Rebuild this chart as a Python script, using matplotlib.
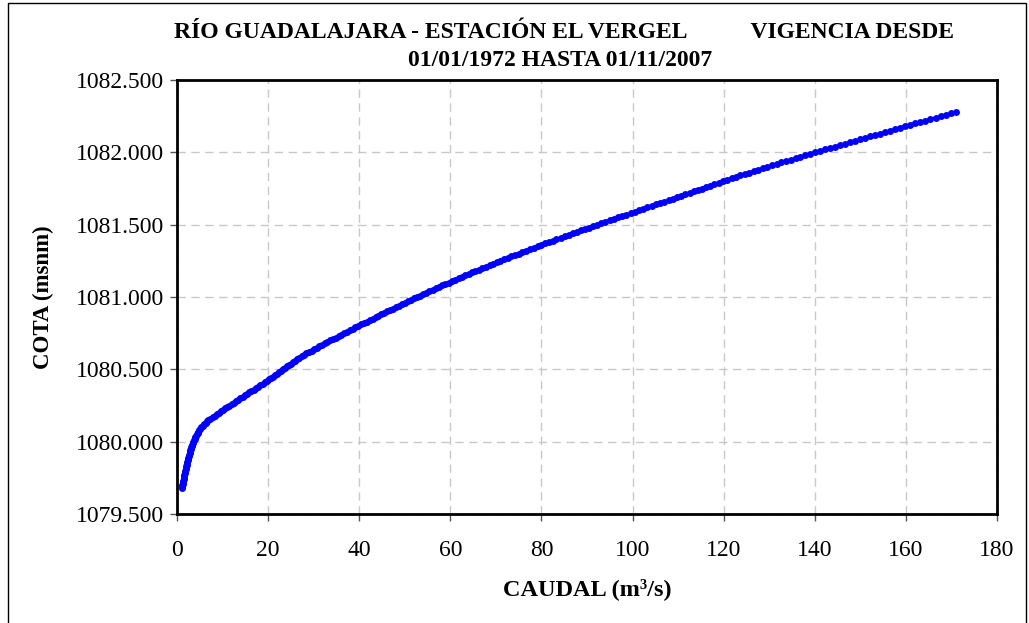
import matplotlib
matplotlib.use("Agg")
import matplotlib.pyplot as plt
from matplotlib.patches import Rectangle

# Rating table: stage (m a.s.l.) and discharge (m3/s), one row per decimetre
COTA = [
    1079.68, 1079.69, 1079.70,
    1079.71, 1079.72, 1079.73, 1079.74, 1079.75, 1079.76, 1079.77, 1079.78, 1079.79, 1079.80,
    1079.81, 1079.82, 1079.83, 1079.84, 1079.85, 1079.86, 1079.87, 1079.88, 1079.89, 1079.90,
    1079.91, 1079.92, 1079.93, 1079.94, 1079.95, 1079.96, 1079.97, 1079.98, 1079.99, 1080.00,
    1080.01, 1080.02, 1080.03, 1080.04, 1080.05, 1080.06, 1080.07, 1080.08, 1080.09, 1080.10,
    1080.11, 1080.12, 1080.13, 1080.14, 1080.15, 1080.16, 1080.17, 1080.18, 1080.19, 1080.20,
    1080.21, 1080.22, 1080.23, 1080.24, 1080.25, 1080.26, 1080.27, 1080.28, 1080.29, 1080.30,
    1080.31, 1080.32, 1080.33, 1080.34, 1080.35, 1080.36, 1080.37, 1080.38, 1080.39, 1080.40,
    1080.41, 1080.42, 1080.43, 1080.44, 1080.45, 1080.46, 1080.47, 1080.48, 1080.49, 1080.50,
    1080.51, 1080.52, 1080.53, 1080.54, 1080.55, 1080.56, 1080.57, 1080.58, 1080.59, 1080.60,
    1080.61, 1080.62, 1080.63, 1080.64, 1080.65, 1080.66, 1080.67, 1080.68, 1080.69, 1080.70,
    1080.71, 1080.72, 1080.73, 1080.74, 1080.75, 1080.76, 1080.77, 1080.78, 1080.79, 1080.80,
    1080.81, 1080.82, 1080.83, 1080.84, 1080.85, 1080.86, 1080.87, 1080.88, 1080.89, 1080.90,
    1080.91, 1080.92, 1080.93, 1080.94, 1080.95, 1080.96, 1080.97, 1080.98, 1080.99, 1081.00,
    1081.01, 1081.02, 1081.03, 1081.04, 1081.05, 1081.06, 1081.07, 1081.08, 1081.09, 1081.10,
    1081.11, 1081.12, 1081.13, 1081.14, 1081.15, 1081.16, 1081.17, 1081.18, 1081.19, 1081.20,
    1081.21, 1081.22, 1081.23, 1081.24, 1081.25, 1081.26, 1081.27, 1081.28, 1081.29, 1081.30,
    1081.31, 1081.32, 1081.33, 1081.34, 1081.35, 1081.36, 1081.37, 1081.38, 1081.39, 1081.40,
    1081.41, 1081.42, 1081.43, 1081.44, 1081.45, 1081.46, 1081.47, 1081.48, 1081.49, 1081.50,
    1081.51, 1081.52, 1081.53, 1081.54, 1081.55, 1081.56, 1081.57, 1081.58, 1081.59, 1081.60,
    1081.61, 1081.62, 1081.63, 1081.64, 1081.65, 1081.66, 1081.67, 1081.68, 1081.69, 1081.70,
    1081.71, 1081.72, 1081.73, 1081.74, 1081.75, 1081.76, 1081.77, 1081.78, 1081.79, 1081.80,
    1081.81, 1081.82, 1081.83, 1081.84, 1081.85, 1081.86, 1081.87, 1081.88, 1081.89, 1081.90,
    1081.91, 1081.92, 1081.93, 1081.94, 1081.95, 1081.96, 1081.97, 1081.98, 1081.99, 1082.00,
    1082.01, 1082.02, 1082.03, 1082.04, 1082.05, 1082.06, 1082.07, 1082.08, 1082.09, 1082.10,
    1082.11, 1082.12, 1082.13, 1082.14, 1082.15, 1082.16, 1082.17, 1082.18, 1082.19, 1082.20,
    1082.21, 1082.22, 1082.23, 1082.24, 1082.25, 1082.26, 1082.27, 1082.28,
]

CAUDAL = [
    1.10, 1.15, 1.20,
    1.26, 1.32, 1.38, 1.44, 1.50, 1.57, 1.64, 1.71, 1.78, 1.85,
    1.92, 1.99, 2.06, 2.13, 2.20, 2.28, 2.36, 2.44, 2.52, 2.60,
    2.69, 2.78, 2.87, 2.96, 3.05, 3.16, 3.27, 3.38, 3.49, 3.60,
    3.74, 3.88, 4.02, 4.16, 4.30, 4.50, 4.70, 4.90, 5.10, 5.30,
    5.62, 5.94, 6.26, 6.58, 6.90, 7.35, 7.85, 8.30, 8.75, 9.20,
    9.66, 10.12, 10.58, 11.04, 11.50, 11.98, 12.46, 12.94, 13.42, 13.90,
    14.39, 14.88, 15.37, 15.86, 16.35, 16.84, 17.33, 17.82, 18.31, 18.80,
    19.24, 19.68, 20.12, 20.56, 21.00, 21.44, 21.88, 22.32, 22.76, 23.20,
    23.66, 24.12, 24.58, 25.04, 25.50, 25.96, 26.42, 26.88, 27.34, 27.80,
    28.38, 28.96, 29.54, 30.12, 30.70, 31.28, 31.86, 32.44, 33.02, 33.60,
    34.22, 34.84, 35.46, 36.08, 36.70, 37.32, 37.94, 38.56, 39.18, 39.80,
    40.43, 41.06, 41.69, 42.32, 42.95, 43.58, 44.21, 44.84, 45.47, 46.10,
    46.75, 47.40, 48.05, 48.70, 49.35, 50.00, 50.65, 51.30, 51.95, 52.60,
    53.30, 54.00, 54.70, 55.40, 56.10, 56.80, 57.50, 58.20, 58.90, 59.60,
    60.34, 61.08, 61.82, 62.56, 63.30, 64.04, 64.78, 65.52, 66.26, 67.00,
    67.80, 68.60, 69.40, 70.20, 71.00, 71.80, 72.60, 73.40, 74.20, 75.00,
    75.83, 76.66, 77.49, 78.32, 79.15, 79.98, 80.81, 81.64, 82.47, 83.30,
    84.19, 85.08, 85.97, 86.86, 87.75, 88.64, 89.53, 90.42, 91.31, 92.20,
    93.12, 94.04, 94.96, 95.88, 96.80, 97.72, 98.64, 99.56, 100.48, 101.40,
    102.33, 103.26, 104.19, 105.12, 106.05, 106.98, 107.91, 108.84, 109.77, 110.70,
    111.61, 112.52, 113.43, 114.34, 115.25, 116.16, 117.07, 117.98, 118.89, 119.80,
    120.77, 121.74, 122.71, 123.68, 124.65, 125.62, 126.59, 127.56, 128.53, 129.50,
    130.55, 131.60, 132.65, 133.70, 134.75, 135.80, 136.85, 137.90, 138.95, 140.00,
    141.10, 142.20, 143.30, 144.40, 145.50, 146.60, 147.70, 148.80, 149.90, 151.00,
    152.10, 153.20, 154.30, 155.40, 156.50, 157.60, 158.70, 159.80, 160.90, 162.00,
    163.10, 164.20, 165.30, 166.50, 167.60, 168.70, 169.90, 171.00,
]

X_TICKS = [0, 20, 40, 60, 80, 100, 120, 140, 160, 180]
Y_TICKS = [1079.5, 1080.0, 1080.5, 1081.0, 1081.5, 1082.0, 1082.5]

TITLE_1 = "RÍO GUADALAJARA - ESTACIÓN EL VERGEL           VIGENCIA DESDE"
TITLE_2 = "01/01/1972 HASTA 01/11/2007"
X_LABEL = "CAUDAL (m³/s)"
Y_LABEL = "COTA (msnm)"

SERIF = ["Liberation Serif", "DejaVu Serif"]

W, H = 1029, 623
fig = plt.figure(figsize=(W / 100, H / 100), dpi=100)
fig.patch.set_facecolor("white")

# outer chart-area frame
fig.patches.append(Rectangle((8 / W, -0.05), (1026 - 8) / W, 1.05 - 3 / H,
                             transform=fig.transFigure, fill=False,
                             edgecolor="black", linewidth=1.0))

ax = fig.add_axes([177 / W, 1 - 514 / H, (997 - 177) / W, (514 - 80) / H])

ax.plot(CAUDAL, COTA, color="#0000FF", linewidth=1.8, marker="o",
        markersize=5.0, markeredgewidth=0, zorder=3)

ax.set_xlim(0, 180)
ax.set_ylim(1079.5, 1082.5)
ax.set_xticks(X_TICKS)
ax.set_yticks(Y_TICKS)
ax.set_xticklabels([str(v) for v in X_TICKS], family=SERIF, fontsize=17)
ax.set_yticklabels([f"{v:.3f}" for v in Y_TICKS], family=SERIF, fontsize=17)
ax.tick_params(axis="both", direction="out", length=5, width=1, color="#555555")
ax.tick_params(axis="x", pad=14)
ax.tick_params(axis="y", pad=4)

ax.grid(True, color="#c8c8c8", linestyle=(0, (6, 4)), linewidth=1.0)
ax.set_axisbelow(True)
for s in ax.spines.values():
    s.set_linewidth(2.0)
    s.set_color("black")

ax.set_xlabel(X_LABEL, family=SERIF, fontsize=17.5, fontweight="bold", labelpad=12)
ax.set_ylabel(Y_LABEL, family=SERIF, fontsize=16.5, fontweight="bold", labelpad=16)

fig.text(564 / W, 1 - 32 / H, TITLE_1, family=SERIF, fontsize=17,
         fontweight="bold", ha="center", va="center")
fig.text(560 / W, 1 - 60 / H, TITLE_2, family=SERIF, fontsize=17,
         fontweight="bold", ha="center", va="center")

fig.savefig("out.png", dpi=100, facecolor="white")
